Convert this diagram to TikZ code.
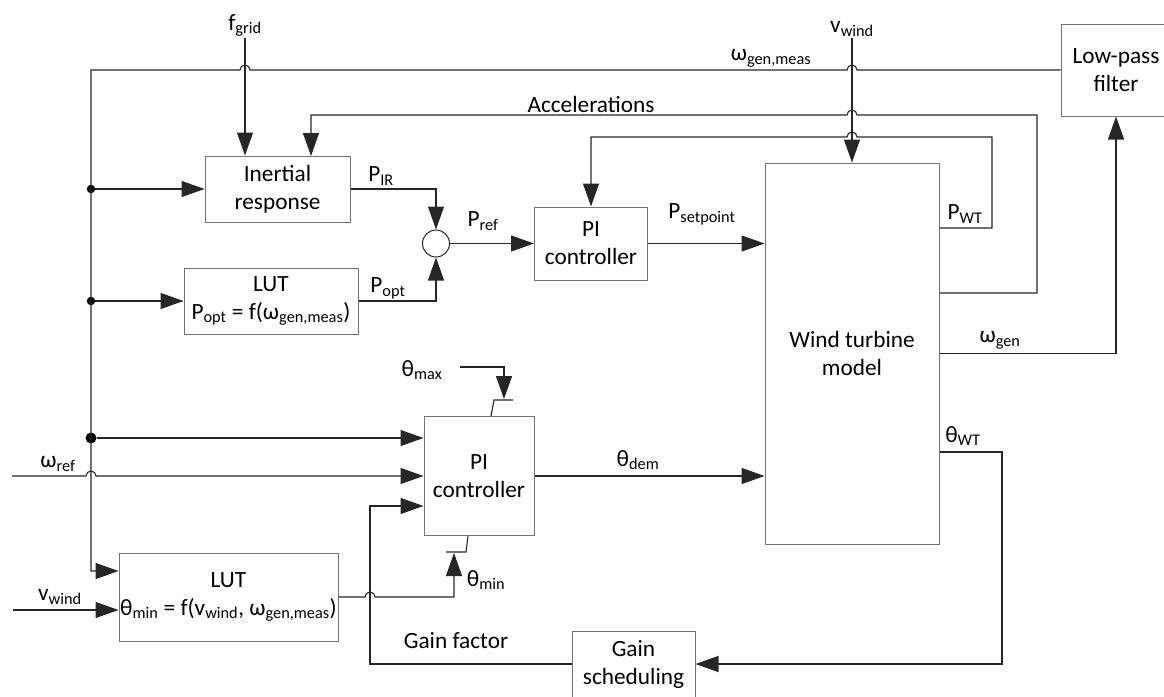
\documentclass[tikz,border=0pt]{standalone}
\usepackage{fontspec}
\setmainfont{Carlito}
\usetikzlibrary{arrows.meta}
\newcommand\sbs[1]{\textsubscript{#1}}
\begin{document}
\begin{tikzpicture}[x=1pt,y=-1pt,every node/.style={font=\fontsize{23.3}{28}\selectfont},
  blk/.style={draw=black!55,line width=1pt,align=center,inner sep=0pt},
  wire/.style={draw=black!85,line width=1.1pt},
  arr/.style={wire,-{Triangle[length=23pt,width=16pt]}},
  jdot/.style={circle,fill=black,inner sep=0pt,minimum size=#1},
  jdot/.default=8.5pt,
  lbl/.style={inner sep=1pt}]
\useasboundingbox (0,0) rectangle (1164,696);
\node[blk,minimum width=145pt,minimum height=66pt] (inert) at (277.5,189) {Inertial\\response};
\node[blk,minimum width=174pt,minimum height=66pt] (lut1) at (271,301) {LUT\\P\sbs{opt} = f(ω\sbs{gen,meas})};
\node[circle,draw=black!85,line width=1pt,inner sep=0pt,minimum size=27pt] (sum) at (436,243.5) {};
\node[blk,minimum width=113pt,minimum height=73pt] (pi1) at (591,243.5) {PI\\controller};
\node[blk,minimum width=174pt,minimum height=381pt] (wt) at (852,353.5) {Wind turbine\\model};
\node[blk,minimum width=110pt,minimum height=92pt] (lpf) at (1116,70) {Low-pass\\filter};
\node[blk,minimum width=110pt,minimum height=119pt] (pi2) at (479,476) {PI\\controller};
\node[blk,minimum width=219pt,minimum height=88pt] (lut2) at (228.5,597) {LUT\\θ\sbs{min} = f(v\sbs{wind}, ω\sbs{gen,meas})};
\node[blk,minimum width=123pt,minimum height=66pt] (gain) at (633.5,664) {Gain\\scheduling};
\node[jdot] (d1) at (91,189) {};
\node[jdot] (d2) at (91,301) {};
\node[jdot=11pt] (d3) at (91,438) {};
\coordinate (wref) at (12,476);
\coordinate (vwin) at (13,610);
\coordinate (bus) at (91,571);
\node[lbl,anchor=south] (fgrid) at (245,38) {f\sbs{grid}};
\node[lbl,anchor=south] (vwtop) at (852,38) {v\sbs{wind}};
\node[lbl] (lwgm) at (771,58) {ω\sbs{gen,meas}};
\node[lbl] (lacc) at (591,104) {Accelerations};
\node[lbl] (lpir) at (381,176) {P\sbs{IR}};
\node[lbl] (lpopt) at (388,288) {P\sbs{opt}};
\node[lbl] (lpref) at (483,221) {P\sbs{ref}};
\node[lbl] (lpset) at (702,214) {P\sbs{setpoint}};
\node[lbl] (lpwt) at (965,214) {P\sbs{WT}};
\node[lbl] (lwgen) at (1000,340) {ω\sbs{gen}};
\node[lbl] (ltwt) at (963,436) {θ\sbs{WT}};
\node[lbl] (ltmax) at (422,370) {θ\sbs{max}};
\node[lbl] (ltdem) at (638,460) {θ\sbs{dem}};
\node[lbl] (ltmin) at (486,580) {θ\sbs{min}};
\node[lbl] (lgf) at (456,641) {Gain factor};
\node[lbl] (lwref) at (58,464) {ω\sbs{ref}};
\node[lbl] (lvw) at (60,597) {v\sbs{wind}};
\draw[arr] (lpf.west) -- (857,70) arc[start angle=0,end angle=180,radius=5pt] -- (250,70) arc[start angle=0,end angle=180,radius=5pt] -- (91,70) -- (bus) -- (lut2.west |- bus);
\draw[arr] (fgrid.south) -- (fgrid.south |- inert.north);
\draw[arr] (vwtop.south) -- (wt.north);
\draw[arr] (d1) -- (inert.west);
\draw[arr] (d2) -- (lut1.west);
\draw[arr] (d3) -- (d3 -| pi2.west);
\draw[arr] (inert.east) -| (sum.north);
\draw[arr] (lut1.east) -| (sum.south);
\draw[arr] (sum.east) -- (pi1.west);
\draw[arr] (pi1.east) -- (wt.west |- pi1.east);
\draw[arr] (wt.east |- 0,293) -- (1037,293) -- (1037,115) -- (857,115) arc[start angle=0,end angle=180,radius=5pt] -- (311,115) -- (311,156);
\draw[arr] (wt.east |- 0,228) -- (992,228) -- (992,137) -- (857,137) arc[start angle=0,end angle=180,radius=5pt] -- (pi1.north |- 0,137) -- (pi1.north);
\draw[arr] (wt.east) -| (lpf.south);
\draw[arr] (wt.east |- 0,452) -- (1002,452) |- (gain.east);
\draw[arr] (gain.west) -| (370,506) -- (pi2.west |- 0,506);
\draw[arr] (wref) -- (86,476) arc[start angle=180,end angle=0,radius=5pt] -- (pi2.west);
\draw[arr] (pi2.east) -- (wt.west |- pi2.east);
\draw[arr] (vwin) -- (lut2.west |- vwin);
\draw[arr] (lut2.east) -- (365,597) arc[start angle=180,end angle=0,radius=5pt] -- (454,597) -- (454,553);
\draw[wire] (446,552) -- (466,552) -- ([xshift=-11pt]pi2.south);
\draw[arr] (460,367) -- (504,367) -- (504,399);
\draw[wire] (513,400) -- (494,400) -- ([xshift=12pt]pi2.north);
\end{tikzpicture}
\end{document}
